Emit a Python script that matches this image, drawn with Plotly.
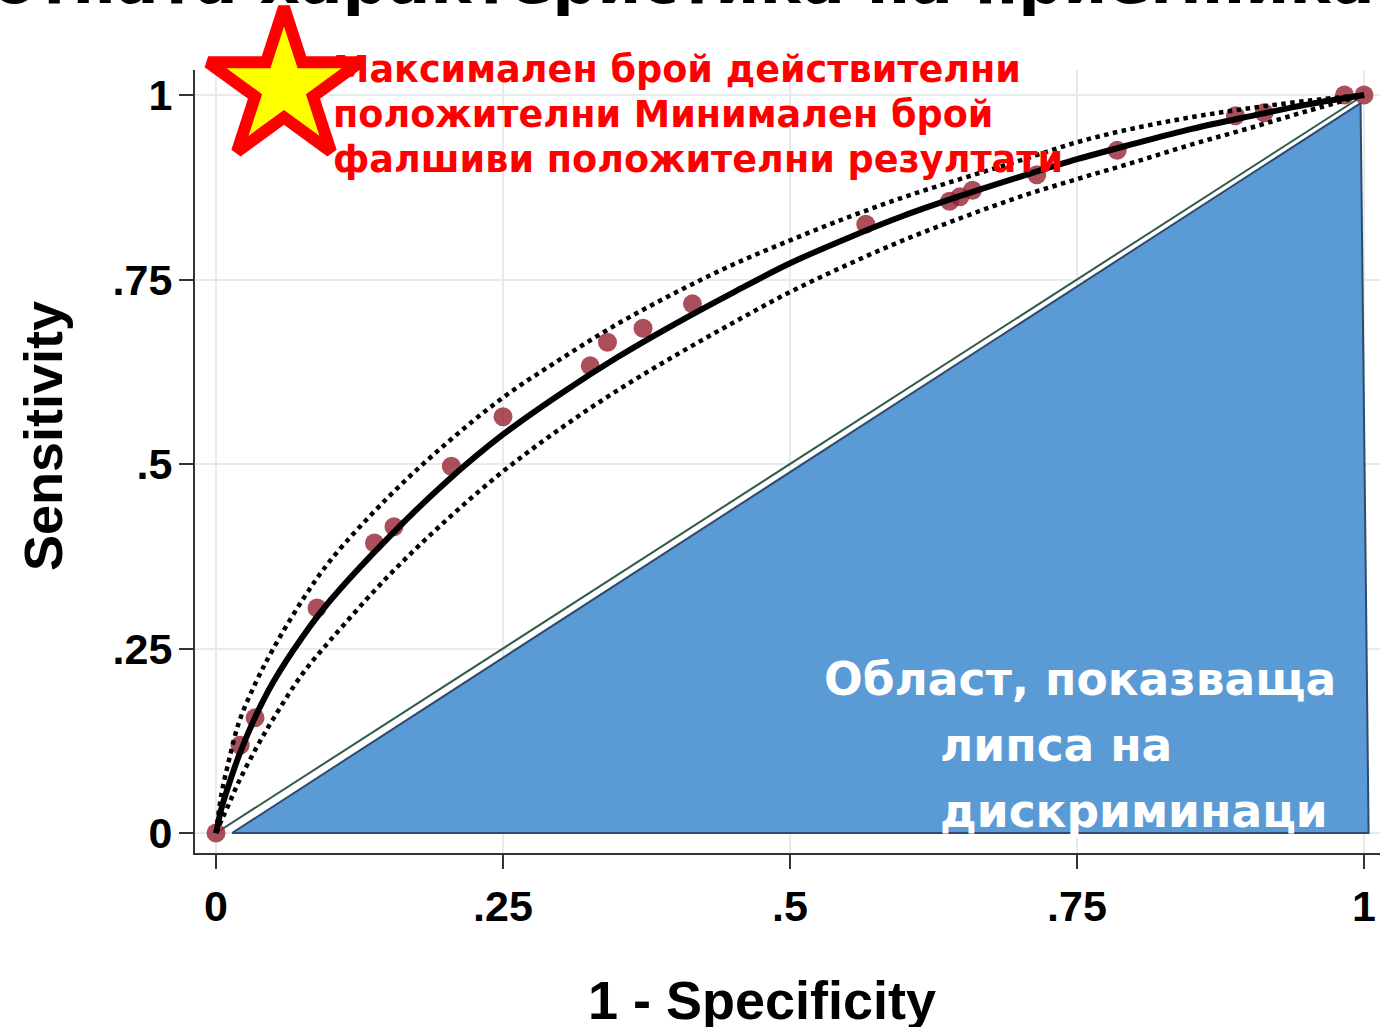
import plotly.graph_objects as go

# ---------------- data ----------------
# empirical ROC points (1 - specificity, sensitivity)
emp_fpr = [0.0, 0.021, 0.034, 0.088, 0.138, 0.155, 0.205, 0.250, 0.326, 0.341, 0.372,
           0.415, 0.566, 0.639, 0.648, 0.659, 0.715, 0.785, 0.888, 0.913, 0.983, 1.0]
emp_tpr = [0.0, 0.119, 0.156, 0.305, 0.393, 0.415, 0.497, 0.564, 0.633, 0.665, 0.684,
           0.717, 0.825, 0.856, 0.862, 0.871, 0.892, 0.925, 0.972, 0.976, 1.0, 1.0]

# fitted ROC curve and confidence band
fit_fpr = [0.0, 0.005, 0.01, 0.02, 0.035, 0.05, 0.075, 0.1, 0.15, 0.2, 0.25, 0.3, 0.35,
           0.4, 0.45, 0.5, 0.55, 0.6, 0.65, 0.7, 0.75, 0.8, 0.85, 0.9, 0.95, 1.0]
fit_tpr = [0.0, 0.035, 0.06, 0.105, 0.16, 0.205, 0.265, 0.316, 0.40, 0.475, 0.54, 0.595,
           0.645, 0.69, 0.732, 0.772, 0.806, 0.837, 0.864, 0.889, 0.913, 0.934, 0.954, 0.971, 0.987, 1.0]
up_tpr = [0.0, 0.055, 0.09, 0.15, 0.205, 0.25, 0.315, 0.37, 0.455, 0.527, 0.59, 0.642,
          0.69, 0.732, 0.77, 0.803, 0.834, 0.862, 0.887, 0.911, 0.936, 0.955, 0.970, 0.982, 0.992, 1.0]
lo_tpr = [0.0, 0.018, 0.035, 0.07, 0.115, 0.155, 0.215, 0.262, 0.348, 0.423, 0.49, 0.548,
          0.6, 0.647, 0.691, 0.733, 0.770, 0.804, 0.834, 0.862, 0.886, 0.909, 0.933, 0.955, 0.978, 1.0]

# reference (chance) diagonal
diag_x = [0.0, 1.0]
diag_y = [0.0, 1.0]

# "no discrimination" triangle overlay
tri_x = [0.014, 0.997, 1.004, 0.014]
tri_y = [0.0, 0.989, 0.0, 0.0]

x_ticks = [0, 0.25, 0.5, 0.75, 1]
x_labels = ["0", ".25", ".5", ".75", "1"]
y_ticks = [0, 0.25, 0.5, 0.75, 1]
y_labels = ["0", ".25", ".5", ".75", "1"]

title_text = "Работната характеристика на приемника"
red_lines = ["Максимален брой действителни",
             "положителни Минимален брой",
             "фалшиви положителни резултати"]
white_lines = ["Област, показваща", "липса на", "дискриминаци"]
x_title = "1 - Specificity"
y_title = "Sensitivity"

# ---------------- layout geometry ----------------
W, H = 1380, 1027
ML, MR, MT, MB = 195, 0, 70, 174
PW, PH = W - ML - MR, H - MT - MB
XR = [-0.0183, -0.0183 + PW / 1148]
YR = [-0.0271, -0.0271 + PH / 738]


def px_x(px):
    return (px - ML) / PW


def px_y(py):
    return (H - MB - py) / PH


def dx(px):
    return XR[0] + (px - ML) / PW * (XR[1] - XR[0])


def dy(py):
    return YR[0] + (H - MB - py) / PH * (YR[1] - YR[0])


FONT = "Liberation Sans, Arial, sans-serif"
HEAVY = "DejaVu Sans, Liberation Sans, sans-serif"

fig = go.Figure()

# triangle
fig.add_trace(go.Scatter(x=tri_x, y=tri_y, mode="lines", fill="toself",
                         fillcolor="#5B9BD5", line=dict(color="#2E4A6E", width=2),
                         hoverinfo="skip", showlegend=False))
# diagonal
fig.add_trace(go.Scatter(x=diag_x, y=diag_y, mode="lines",
                         line=dict(color="#2F5A4C", width=2),
                         hoverinfo="skip", showlegend=False))
# empirical points
fig.add_trace(go.Scatter(x=emp_fpr, y=emp_tpr, mode="markers",
                         marker=dict(size=19, color="rgba(150,35,50,0.8)", line=dict(width=0)),
                         showlegend=False, cliponaxis=False))
# confidence band
fig.add_trace(go.Scatter(x=fit_fpr, y=up_tpr, mode="lines", line_shape="spline",
                         line=dict(color="black", width=4.5, dash="dot"), showlegend=False))
fig.add_trace(go.Scatter(x=fit_fpr, y=lo_tpr, mode="lines", line_shape="spline",
                         line=dict(color="black", width=4.5, dash="dot"), showlegend=False))
# fitted curve
fig.add_trace(go.Scatter(x=fit_fpr, y=fit_tpr, mode="lines", line_shape="spline",
                         line=dict(color="black", width=6), showlegend=False))

# red annotation text (drawn as text traces so the star can sit above it)
red_py = [73, 118, 163]
for line, py in zip(red_lines, red_py):
    fig.add_trace(go.Scatter(x=[dx(333)], y=[dy(py)], mode="text", text=[line],
                             textposition="middle right",
                             textfont=dict(family=HEAVY, size=36.6, color="#FF0000", weight="bold"),
                             showlegend=False, cliponaxis=False, hoverinfo="skip"))

# star
fig.add_trace(go.Scatter(x=[dx(284)], y=[dy(87)], mode="markers",
                         marker=dict(symbol="star", size=114, color="#FFFF00",
                                     line=dict(color="#FF0000", width=12)),
                         showlegend=False, cliponaxis=False, hoverinfo="skip"))

annotations = []
# title (partly off canvas, as in the reference)
annotations.append(dict(text=title_text, xref="paper", yref="paper",
                        x=px_x(1377), y=px_y(20), xanchor="right", yanchor="bottom",
                        showarrow=False,
                        font=dict(family=HEAVY, size=63, color="black", weight="bold")))
# axis titles
annotations.append(dict(text=x_title, xref="paper", yref="paper",
                        x=px_x(762), y=px_y(1000), xanchor="center", yanchor="middle",
                        showarrow=False,
                        font=dict(family=FONT, size=54, color="black", weight="bold")))
annotations.append(dict(text=y_title, xref="paper", yref="paper",
                        x=px_x(43), y=px_y(436), xanchor="center", yanchor="middle",
                        textangle=-90, showarrow=False,
                        font=dict(family=FONT, size=54, color="black", weight="bold")))
# white text inside triangle
white_pos = [(822, 679), (938, 745), (938, 811)]
for line, (x0, y0) in zip(white_lines, white_pos):
    annotations.append(dict(text=line, xref="paper", yref="paper",
                            x=px_x(x0), y=px_y(y0), xanchor="left", yanchor="middle",
                            showarrow=False,
                            font=dict(family=HEAVY, size=45.5, color="white", weight="bold")))

axis_common = dict(showline=True, linecolor="#333333", linewidth=2,
                   ticks="outside", ticklen=14, tickwidth=2, tickcolor="#333333",
                   showgrid=True, gridcolor="#E6EBEB", gridwidth=2, zeroline=False,
                   tickfont=dict(family=FONT, size=43, color="black", weight="bold"))

fig.update_layout(
    width=W, height=H,
    margin=dict(l=ML, r=MR, t=MT, b=MB, autoexpand=False),
    paper_bgcolor="white", plot_bgcolor="white",
    xaxis=dict(range=XR, tickvals=x_ticks, ticktext=x_labels, ticklabelstandoff=0, **axis_common),
    yaxis=dict(range=YR, tickvals=y_ticks, ticktext=y_labels, ticklabelstandoff=-2, **axis_common),
    annotations=annotations,
    showlegend=False,
)

fig.write_html("out.html", config={"displayModeBar": False},
               post_script="document.body.style.margin='0';document.body.style.overflow='hidden';")
